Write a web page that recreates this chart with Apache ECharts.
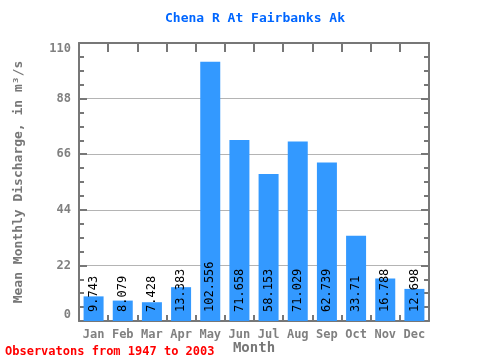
<!DOCTYPE html>
<html>
<head>
<meta charset="utf-8">
<script src="https://cdn.jsdelivr.net/npm/echarts@6/dist/echarts.min.js"></script>
<style>html,body{margin:0;padding:0;background:#fff}#c{width:480px;height:360px}</style>
</head>
<body>
<div id="c"></div>
<script>
var months = ['Jan','Feb','Mar','Apr','May','Jun','Jul','Aug','Sep','Oct','Nov','Dec'];
var discharge = [9.743, 8.079, 7.428, 13.383, 102.556, 71.658, 58.153, 71.029, 62.739, 33.71, 16.788, 12.698];
var labels = ['9.743','8.079','7.428','13.383','102.556','71.658','58.153','71.029','62.739','33.71','16.788','12.698'];
var yMin = 0, yMax = 110, yStep = 22;
var titleText = 'Chena R At Fairbanks Ak';
var noteText = 'Observatons from 1947 to 2003';

var mono = 'DejaVu Sans Mono';
var axisColor = '#777777';
var chart = echarts.init(document.getElementById('c'), null, {renderer: 'canvas'});
var yBase = {
  type: 'value', min: yMin, max: yMax, interval: yStep,
  axisLine: {show: true, onZero: false, lineStyle: {color: axisColor, width: 2}},
  axisTick: {show: true, inside: true, length: 8, lineStyle: {color: axisColor, width: 2}},
  minorTick: {show: true, splitNumber: 4, length: 5, lineStyle: {color: axisColor, width: 2}}
};
chart.setOption({
  animation: false,
  title: {
    text: titleText, left: 250, top: 7, textAlign: 'center',
    textStyle: {fontFamily: mono, fontSize: 13, fontWeight: 'bold', color: '#0066ff'}
  },
  grid: {left: 79, right: 51, top: 43, bottom: 39, containLabel: false, outerBoundsMode: 'none'},
  xAxis: [{
    type: 'category', data: months, position: 'bottom',
    name: 'Month', nameLocation: 'middle', nameGap: 20, nameMoveOverlap: false,
    nameTextStyle: {fontFamily: mono, fontSize: 14, fontWeight: 'bold', color: '#777777'},
    axisLine: {onZero: false, lineStyle: {color: axisColor, width: 2}},
    axisTick: {show: true, inside: true, interval: 0, length: 6, lineStyle: {color: axisColor, width: 2}},
    axisLabel: {interval: 0, fontFamily: mono, fontSize: 12, fontWeight: 'bold', color: '#808080', margin: 8}
  }, {
    type: 'category', data: months, position: 'top',
    axisLine: {onZero: false, lineStyle: {color: axisColor, width: 2}},
    axisTick: {show: true, inside: true, interval: 0, length: 9, lineStyle: {color: axisColor, width: 2}},
    axisLabel: {show: false, interval: 0}
  }],
  yAxis: [Object.assign({}, yBase, {
    position: 'left',
    name: 'Mean Monthly Discharge, in m³/s', nameLocation: 'middle', nameGap: 54, nameRotate: 90,
    nameMoveOverlap: false,
    nameTextStyle: {fontFamily: mono, fontSize: 13, fontWeight: 'bold', color: '#777777'},
    axisLabel: {fontFamily: mono, fontSize: 12, fontWeight: 'bold', color: '#808080', margin: 8,
      verticalAlignMinLabel: 'bottom', verticalAlignMaxLabel: 'top'},
    splitLine: {show: true, lineStyle: {color: '#b4b4b4', width: 1}}
  }), Object.assign({}, yBase, {
    position: 'right',
    axisLabel: {show: false},
    splitLine: {show: false}
  })],
  graphic: [{
    type: 'text', left: 5, top: 346,
    style: {text: noteText, font: 'bold 12px "DejaVu Sans Mono"', fill: '#ff0000'}
  }],
  series: [{
    type: 'bar', data: discharge, barWidth: 20, xAxisIndex: 0, yAxisIndex: 0,
    itemStyle: {color: '#3399ff'},
    label: {
      show: true, position: 'insideBottom', rotate: 90, align: 'left', verticalAlign: 'middle',
      distance: 9,
      formatter: function (p) { return labels[p.dataIndex]; },
      fontFamily: mono, fontSize: 12, color: '#000000'
    }
  }]
});
</script>
</body>
</html>
